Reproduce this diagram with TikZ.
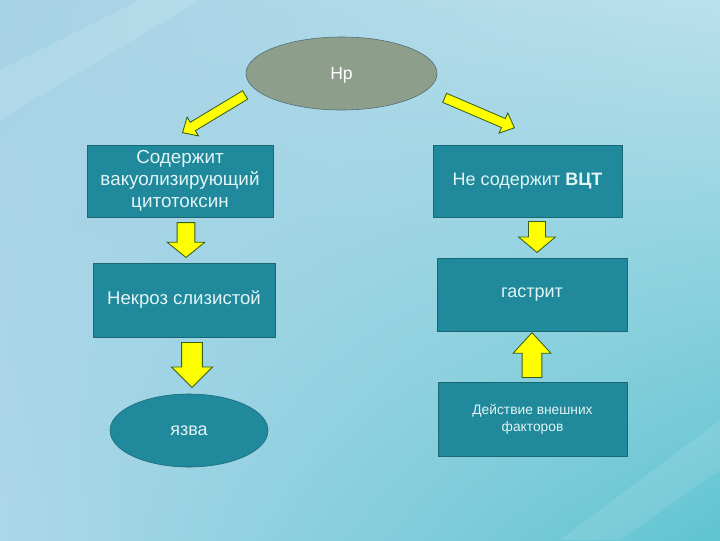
\documentclass[tikz,border=0pt]{standalone}
\usepackage{fontspec}
\setmainfont{Liberation Sans}
\usetikzlibrary{shapes.geometric,shapes.arrows,shadings}
\definecolor{bgupleft}{RGB}{166,210,229}
\definecolor{bgupright}{RGB}{186,224,236}
\definecolor{bglowleft}{RGB}{172,216,233}
\definecolor{bglowright}{RGB}{96,196,208}
\definecolor{boxteal}{RGB}{32,137,155}
\definecolor{boxedge}{RGB}{27,104,117}
\definecolor{boxtext}{RGB}{226,244,246}
\definecolor{ovalgrey}{RGB}{141,159,139}
\definecolor{ovaledge}{RGB}{78,106,118}
\definecolor{arrowyellow}{RGB}{255,255,0}
\definecolor{arrowedge}{RGB}{52,96,30}

\begin{document}
\begin{tikzpicture}[x=0.025cm, y=-0.025cm,
	box/.style={rectangle, draw=boxedge, fill=boxteal, text=boxtext, align=center, inner sep=0pt, font=\fontsize{12.8}{15}\selectfont},
	oval/.style={ellipse, inner sep=0pt, font=\fontsize{12.8}{15}\selectfont},
	blockarrow/.style={single arrow, draw=arrowedge, fill=arrowyellow, line width=0.6pt, inner xsep=0pt, minimum width=0pt, anchor=tip}]
	\shade[upper left=bgupleft, upper right=bgupright, lower left=bglowleft, lower right=bglowright] (0,0) rectangle (720,540);
	\fill[white, opacity=0.12] (0,70) -- (140,0) -- (200,0) -- (0,120) -- cycle;
	\fill[white, opacity=0.10] (560,540) -- (720,420) -- (720,470) -- (620,540) -- cycle;
	\node[oval, fill=ovalgrey, draw=ovaledge, text=white, minimum width=4.775cm, minimum height=1.825cm, font=\fontsize{12.5}{15}\selectfont, text depth=0pt] (hp) at (341.5,73.5) {Hp};
	\node[box, minimum width=4.65cm, minimum height=1.8cm, font=\fontsize{13.4}{15.5}\selectfont] (vacA) at (180,181) {Содержит\\вакуолизирующий\\цитотоксин};
	\node[box, minimum width=4.725cm, minimum height=1.8cm] (novac) at (527.5,181) {Не содержит \textbf{ВЦТ}};
	\node[box, minimum width=4.55cm, minimum height=1.85cm, font=\fontsize{13.2}{15}\selectfont] (necro) at (184,300) {Некроз слизистой};
	\node[box, minimum width=4.75cm, minimum height=1.825cm] (gastr) at (532,294.5) {гастрит};
	\node[box, minimum width=4.725cm, minimum height=1.85cm, font=\fontsize{9.8}{12}\selectfont] (extf) at (532.5,419) {Действие внешних\\факторов};
	\node[oval, fill=boxteal, draw=boxedge, text=boxtext, minimum width=3.95cm, minimum height=1.825cm] (ulcer) at (189,430.5) {язва};
	\node[blockarrow, rotate=211.1, minimum height=52pt, inner ysep=3.2pt, single arrow head extend=4.3pt, single arrow tip angle=85] (arhpl) at (182,133) {};
	\node[blockarrow, rotate=-23.2, minimum height=54pt, inner ysep=3.2pt, single arrow head extend=4.3pt, single arrow tip angle=85] (arhpr) at (515,128) {};
	\node[blockarrow, rotate=-90, minimum height=24.8pt, inner ysep=6pt, single arrow head extend=7.1pt, single arrow tip angle=102] (arvac) at (186,258) {};
	\node[blockarrow, rotate=-90, minimum height=22pt, inner ysep=5.7pt, single arrow head extend=7.1pt, single arrow tip angle=100] (arnov) at (537,253) {};
	\node[blockarrow, rotate=-90, minimum height=31.9pt, inner ysep=7.1pt, single arrow head extend=7.1pt, single arrow tip angle=90] (arnec) at (192,388) {};
	\node[blockarrow, rotate=90, minimum height=31.9pt, inner ysep=6.7pt, single arrow head extend=6.4pt, single arrow tip angle=85] (arext) at (532,332) {};
\end{tikzpicture}
\end{document}
